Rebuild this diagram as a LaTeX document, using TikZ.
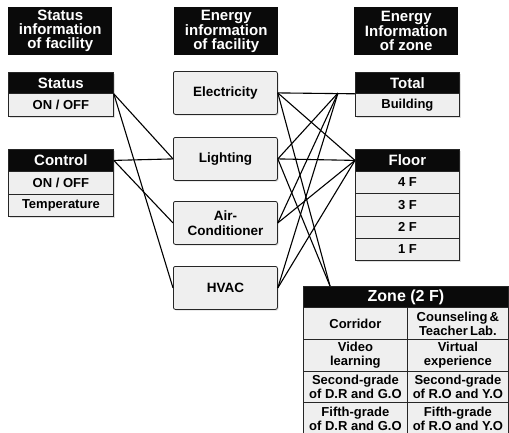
\documentclass[tikz,border=0pt]{standalone}
\usepackage{fontspec}
\setmainfont{Liberation Sans}
\usetikzlibrary{shadows}
\definecolor{cellfill}{HTML}{EFEFEF}
\definecolor{hdr}{HTML}{0A0A0A}
\tikzset{
 base/.style={draw=black!85, line width=0.8pt, inner sep=0pt, align=center, anchor=north west,
   drop shadow={shadow xshift=1.2pt, shadow yshift=-1.2pt, opacity=0.25}},
 header/.style={fill=hdr, text=white, inner sep=0pt, align=center, anchor=north west,
   minimum width=104pt, minimum height=48pt, font=\fontsize{15}{14}\selectfont\bfseries},
 ttl/.style={base, fill=hdr, text=white, minimum width=105pt, font=\fontsize{15}{15}\selectfont\bfseries},
 rowc/.style={base, fill=cellfill, minimum width=105pt, font=\fontsize{13}{14}\selectfont\bfseries},
 mid/.style={base, fill=cellfill, rounded corners=2pt, minimum width=104pt, minimum height=43pt,
   font=\fontsize{13.5}{15}\selectfont\bfseries},
 zrow/.style={base, fill=cellfill, minimum height=32pt, font=\fontsize{13}{14}\selectfont\bfseries},
 link/.style={line width=1.1pt, black},
}
\begin{document}
\begin{tikzpicture}[x=1pt,y=-1pt]
\useasboundingbox (0,0) rectangle (509,432);
% headers
\node[header] (h1) at (8,7) {Status\\information\\of facility};
\node[header] (h2) at (174,7) {Energy\\information\\of facility};
\node[header] (h3) at (354,7) {Energy\\Information\\of zone};
% status / control
\node[ttl, minimum height=21pt] (stT) at (8,72) {Status};
\node[rowc, minimum height=23pt] (stR) at (8,93) {ON / OFF};
\node[ttl, minimum height=22pt] (ctT) at (8,149) {Control};
\node[rowc, minimum height=23pt] (ctR1) at (8,171) {ON / OFF};
\node[rowc, minimum height=22pt] (ctR2) at (8,194) {Temperature};
% middle
\node[mid] (el) at (173,71) {Electricity};
\node[mid] (li) at (173,137) {Lighting};
\node[mid] (ac) at (173,201) {Air-\\Conditioner};
\node[mid] (hv) at (173,266) {HVAC};
% total / floor
\node[ttl, minimum width=104pt, minimum height=21pt] (toT) at (355,72) {Total};
\node[rowc, minimum width=104pt, minimum height=23pt] (toR) at (355,93) {Building};
\node[ttl, minimum width=104pt, minimum height=22pt] (flT) at (355,149) {Floor};
\node[rowc, minimum width=104pt, minimum height=22pt] (f4) at (355,171) {4 F};
\node[rowc, minimum width=104pt, minimum height=23pt] (f3) at (355,193) {3 F};
\node[rowc, minimum width=104pt, minimum height=22pt] (f2) at (355,216) {2 F};
\node[rowc, minimum width=104pt, minimum height=22pt] (f1) at (355,238) {1 F};
% zone
\node[ttl, minimum width=205pt, minimum height=21pt, font=\fontsize{16}{16}\selectfont\bfseries] (zT) at (303,286) {Zone (2 F)};
\node[zrow, minimum width=104pt] (z11) at (303,307) {Corridor};
\node[zrow, minimum width=101pt] (z12) at (407,307) {Counseling\,\&\\Teacher\,Lab.};
\node[zrow, minimum width=104pt] (z21) at (303,339) {Video\\learning};
\node[zrow, minimum width=101pt] (z22) at (407,339) {Virtual\\experience};
\node[zrow, minimum width=104pt, minimum height=31pt] (z31) at (303,371) {Second-grade\\of D.R and G.O};
\node[zrow, minimum width=101pt, minimum height=31pt] (z32) at (407,371) {Second-grade\\of R.O and Y.O};
\node[zrow, minimum width=104pt, minimum height=33pt] (z41) at (303,402) {Fifth-grade\\of D.R and G.O};
\node[zrow, minimum width=101pt, minimum height=33pt] (z42) at (407,402) {Fifth-grade\\of R.O and Y.O};
% junctions
\coordinate (tj) at (338,93);
\coordinate (zj) at (330,286);
% left links
\draw[link] (stT.south east) -- (li.west);
\draw[link] (stT.south east) -- (hv.west);
\draw[link] (ctT.east) -- (li.west);
\draw[link] (ctT.east) -- (ac.west);
% right links
\draw[link] (el.east) -- (toT.south west);
\draw[link] (li.east) -- (tj);
\draw[link] (ac.east) -- (tj);
\draw[link] (hv.east) -- (tj);
\draw[link] (el.east) -- (flT.west);
\draw[link] (li.east) -- (flT.west);
\draw[link] (ac.east) -- (flT.west);
\draw[link] (hv.east) -- (flT.west);
\draw[link] (el.east) -- (zj);
\draw[link] (li.east) -- (zj);
\end{tikzpicture}
\end{document}
